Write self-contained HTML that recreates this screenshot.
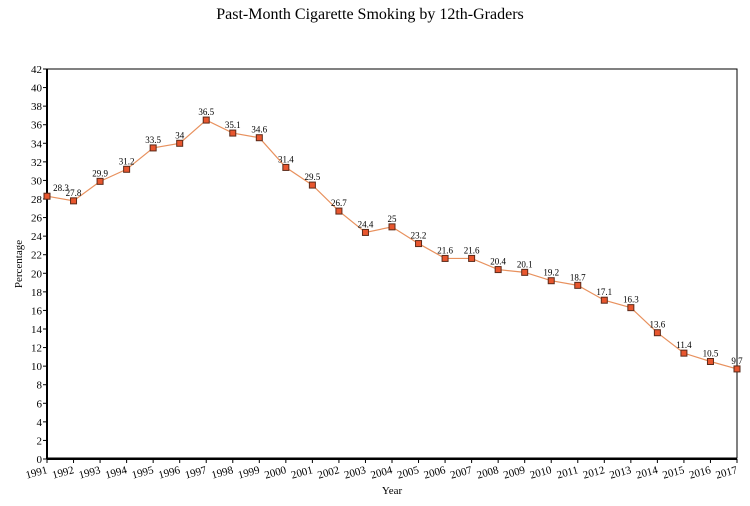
<!DOCTYPE html>
<html><head><meta charset="utf-8"><style>
body{margin:0;background:#fff;}
svg{display:block;font-family:"Liberation Serif",serif;}
</style></head><body>
<svg id="chart" width="750" height="506">
<text x="370" y="19" text-anchor="middle" font-size="16">Past-Month Cigarette Smoking by 12th-Graders</text>
<rect x="47" y="69" width="690" height="389" fill="none" stroke="#000" stroke-width="1"/>
<line x1="47" y1="69" x2="47" y2="459" stroke="#000" stroke-width="2"/>
<line x1="47" y1="459" x2="737" y2="459" stroke="#000" stroke-width="2"/>
<text transform="translate(22,264) rotate(-90)" text-anchor="middle" font-size="11">Percentage</text>
<text x="392" y="494" text-anchor="middle" font-size="11">Year</text>
<g id="ticks"></g><g id="series"></g>
</svg>
<script>
const years=[1991,1992,1993,1994,1995,1996,1997,1998,1999,2000,2001,2002,2003,2004,2005,2006,2007,2008,2009,2010,2011,2012,2013,2014,2015,2016,2017];
const values=[28.3,27.8,29.9,31.2,33.5,34,36.5,35.1,34.6,31.4,29.5,26.7,24.4,25,23.2,21.6,21.6,20.4,20.1,19.2,18.7,17.1,16.3,13.6,11.4,10.5,9.7];
const yTicks=[0,2,4,6,8,10,12,14,16,18,20,22,24,26,28,30,32,34,36,38,40,42];
const NS="http://www.w3.org/2000/svg";
const x0=47,x1=737,y0=459,y1=69;
const xs=i=>x0+(x1-x0)*i/(years.length-1);
const ys=v=>y0-(y0-y1)*v/42;
const tg=document.getElementById('ticks'),sg=document.getElementById('series');
function mk(t,a,p){const e=document.createElementNS(NS,t);for(const k in a)e.setAttribute(k,a[k]);p.appendChild(e);return e;}
yTicks.forEach(v=>{
 const l=mk('line',{x1:x0-4,x2:x0,y1:ys(v),y2:ys(v),stroke:'#000'},tg);
 
 
 const t=mk('text',{x:x0-5,y:ys(v)+4,'text-anchor':'end','font-size':'11'},tg);
 t.textContent=v;
 
 
});
years.forEach((yr,i)=>{
 const l=mk('line',{x1:xs(i),x2:xs(i),y1:y0,y2:y0+4,stroke:'#000'},tg);
 
 
 const t=mk('text',{transform:`translate(${xs(i)+1},${y0+14}) rotate(-15)`,'text-anchor':'end','font-size':'11'},tg);
 t.textContent=yr;
 
 
});
const pl=mk('polyline',{points:values.map((v,i)=>xs(i)+','+ys(v)).join(' '),fill:'none',stroke:'#e8915e','stroke-width':'1.2'},sg);


values.forEach((v,i)=>{
 const r=mk('rect',{x:xs(i)-3,y:ys(v)-3,width:6,height:6,fill:'#e8562e',stroke:'#5a2a1a','stroke-width':'1'},sg);
 
 
 const t=mk('text',{x:xs(i)+(i==0?14:0),y:ys(v)-5,'text-anchor':'middle','font-size':'9'},sg);
 t.textContent=v;
 
 
});
</script>
</body></html>
